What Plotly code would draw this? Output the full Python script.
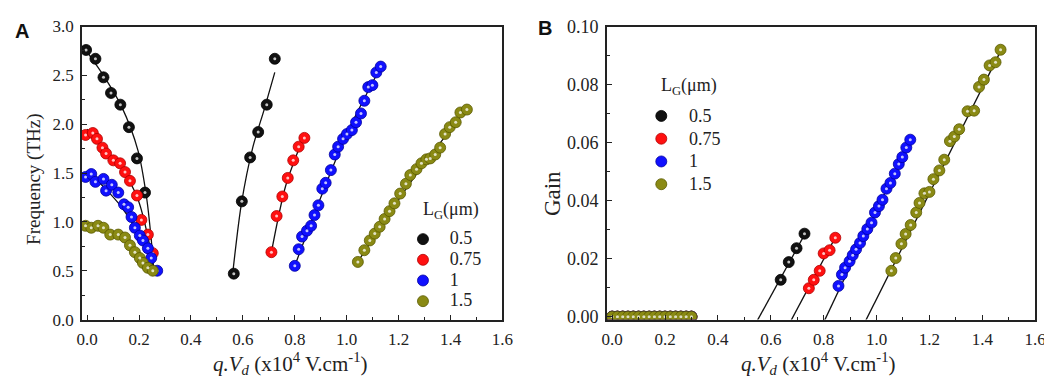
import plotly.graph_objects as go

# ---------------- Panel A : Frequency (THz) ----------------
# low-field (decreasing) branch
A05_lo_x = [-0.004, 0.032, 0.063, 0.092, 0.128, 0.161, 0.192, 0.223]
A05_lo_y = [2.76, 2.67, 2.48, 2.32, 2.20, 1.97, 1.65, 1.30]
A075_lo_x = [-0.006, 0.022, 0.038, 0.059, 0.073, 0.101, 0.127, 0.146, 0.165, 0.192, 0.209, 0.234, 0.253]
A075_lo_y = [1.89, 1.91, 1.85, 1.76, 1.70, 1.63, 1.60, 1.51, 1.42, 1.27, 1.02, 0.87, 0.68]
A1_lo_x = [-0.006, 0.016, 0.032, 0.063, 0.073, 0.095, 0.120, 0.142, 0.158, 0.171, 0.184, 0.203, 0.215, 0.234, 0.247, 0.270]
A1_lo_y = [1.46, 1.49, 1.41, 1.44, 1.32, 1.38, 1.30, 1.18, 1.15, 1.05, 0.94, 0.86, 0.81, 0.73, 0.63, 0.50]
A15_lo_x = [-0.006, 0.016, 0.042, 0.063, 0.089, 0.120, 0.146, 0.165, 0.184, 0.203, 0.215, 0.234, 0.253]
A15_lo_y = [0.96, 0.94, 0.96, 0.94, 0.87, 0.87, 0.84, 0.76, 0.69, 0.63, 0.58, 0.53, 0.50]
# high-field (increasing) branch
A05_hi_x = [0.565, 0.596, 0.628, 0.659, 0.692, 0.723]
A05_hi_y = [0.47, 1.21, 1.66, 1.92, 2.20, 2.67]
A075_hi_x = [0.710, 0.730, 0.752, 0.773, 0.794, 0.815, 0.837]
A075_hi_y = [0.69, 1.06, 1.26, 1.45, 1.63, 1.77, 1.86]
A1_hi_x = [0.800, 0.815, 0.828, 0.847, 0.863, 0.876, 0.891, 0.906, 0.919, 0.939, 0.954, 0.967,
           0.986, 1.001, 1.020, 1.036, 1.055, 1.068, 1.083, 1.099, 1.114, 1.131]
A1_hi_y = [0.55, 0.72, 0.85, 0.91, 0.96, 1.07, 1.17, 1.34, 1.40, 1.53, 1.69, 1.77,
           1.85, 1.90, 1.94, 2.02, 2.11, 2.24, 2.38, 2.40, 2.53, 2.59]
A15_hi_x = [1.043, 1.068, 1.089, 1.108, 1.127, 1.146, 1.165, 1.184, 1.206, 1.228, 1.245, 1.269,
            1.288, 1.307, 1.322, 1.341, 1.360, 1.379, 1.397, 1.420, 1.438, 1.463]
A15_hi_y = [0.59, 0.71, 0.81, 0.88, 0.95, 1.03, 1.11, 1.19, 1.29, 1.39, 1.48, 1.54,
            1.60, 1.64, 1.65, 1.69, 1.76, 1.90, 1.97, 2.02, 2.12, 2.15]

# fitted curves
F05_lo_x = [0.0, 0.07, 0.133, 0.196, 0.228, 0.247, 0.256]
F05_lo_y = [2.74, 2.47, 2.18, 1.73, 1.27, 0.82, 0.52]
F075_lo_x = [0.0, 0.07, 0.133, 0.196, 0.234, 0.256]
F075_lo_y = [1.95, 1.74, 1.55, 1.23, 0.85, 0.52]
F1_lo_x = [0.0, 0.07, 0.133, 0.196, 0.234, 0.256]
F1_lo_y = [1.52, 1.34, 1.15, 0.89, 0.69, 0.52]
F15_lo_x = [0.0, 0.07, 0.133, 0.196, 0.234, 0.256]
F15_lo_y = [0.99, 0.93, 0.84, 0.69, 0.58, 0.52]
F05_hi_x = [0.562, 0.594, 0.638, 0.682, 0.723]
F05_hi_y = [0.50, 1.18, 1.76, 2.15, 2.53]
F075_hi_x = [0.710, 0.765, 0.834]
F075_hi_y = [0.69, 1.37, 1.87]
F1_hi_x = [0.80, 0.90, 1.00, 1.13]
F1_hi_y = [0.55, 1.25, 1.90, 2.58]
F15_hi_x = [1.045, 1.25, 1.463]
F15_hi_y = [0.60, 1.42, 2.16]

# ---------------- Panel B : Gain ----------------
B_zero_x = [0.00, 0.02, 0.04, 0.06, 0.08, 0.10, 0.12, 0.14, 0.16, 0.18, 0.20, 0.22, 0.24, 0.26, 0.28, 0.30]
B_zero_y = [0.0, 0.0, 0.0, 0.0, 0.0, 0.0, 0.0, 0.0, 0.0, 0.0, 0.0, 0.0, 0.0, 0.0, 0.0, 0.0]
B05_x = [0.6375, 0.668, 0.6975, 0.7275]
B05_y = [0.0127, 0.0188, 0.0236, 0.0286]
B075_x = [0.744, 0.7625, 0.785, 0.800, 0.8225, 0.844]
B075_y = [0.0098, 0.0127, 0.0158, 0.0218, 0.0229, 0.0272]
B1_x = [0.856, 0.869, 0.881, 0.898, 0.910, 0.9225, 0.9375, 0.950, 0.965, 0.981, 0.994,
        1.009, 1.0225, 1.0375, 1.0525, 1.069, 1.084, 1.0975, 1.1125, 1.1275]
B1_y = [0.0106, 0.0145, 0.0169, 0.0191, 0.0212, 0.0232, 0.0254, 0.0278, 0.0302, 0.0324, 0.0359,
        0.0381, 0.0403, 0.0441, 0.0461, 0.0493, 0.0526, 0.0550, 0.0583, 0.0610]
B15_x = [1.056, 1.0725, 1.094, 1.110, 1.129, 1.150, 1.1625, 1.181, 1.200, 1.215, 1.2375,
         1.256, 1.2775, 1.294, 1.3125, 1.344, 1.369, 1.3875, 1.406, 1.4275, 1.450, 1.469]
B15_y = [0.0158, 0.0202, 0.0251, 0.0285, 0.0316, 0.0359, 0.0392, 0.0425, 0.0430, 0.0474, 0.0504,
         0.0541, 0.0605, 0.0621, 0.0646, 0.0708, 0.0710, 0.0792, 0.0817, 0.0866, 0.0877, 0.0920]
# fitted straight lines
G05_x = [0.55, 0.735];  G05_y = [-0.0012, 0.0295]
G075_x = [0.6775, 0.845]; G075_y = [-0.0012, 0.0275]
G1_x = [0.804, 1.135];  G1_y = [-0.0012, 0.0625]
G15_x = [0.96, 1.48];   G15_y = [-0.0012, 0.0935]

labels = ["0.5", "0.75", "1", "1.5"]
colors = ["#111111", "#ff1010", "#1010ff", "#8a8a14"]
edges = ["#000000", "#b00000", "#0000a0", "#5a5a00"]

A_pts = [(A05_lo_x, A05_lo_y, A05_hi_x, A05_hi_y),
         (A075_lo_x, A075_lo_y, A075_hi_x, A075_hi_y),
         (A1_lo_x, A1_lo_y, A1_hi_x, A1_hi_y),
         (A15_lo_x, A15_lo_y, A15_hi_x, A15_hi_y)]
A_fit = [(F05_lo_x, F05_lo_y, F05_hi_x, F05_hi_y),
         (F075_lo_x, F075_lo_y, F075_hi_x, F075_hi_y),
         (F1_lo_x, F1_lo_y, F1_hi_x, F1_hi_y),
         (F15_lo_x, F15_lo_y, F15_hi_x, F15_hi_y)]
B_pts = [(B05_x, B05_y), (B075_x, B075_y), (B1_x, B1_y), (B15_x, B15_y)]
B_fit = [(G05_x, G05_y), (G075_x, G075_y), (G1_x, G1_y), (G15_x, G15_y)]

fig = go.Figure()
MS = 11
HL = dict(size=3, color="rgba(255,255,255,0.75)")

def legname(lab):
    return "\u00a0\u00a0<span style='font-size:18px'>" + lab + "</span>"

# fit lines first (under markers)
for (lx, ly, hx, hy) in A_fit:
    fig.add_trace(go.Scatter(x=lx + [None] + hx, y=ly + [None] + hy, mode="lines",
                             line=dict(color="#111111", width=1.3, shape="spline", smoothing=0.8),
                             showlegend=False, hoverinfo="skip", xaxis="x", yaxis="y"))
for (fx, fy) in B_fit:
    fig.add_trace(go.Scatter(x=fx, y=fy, mode="lines", line=dict(color="#111111", width=1.3),
                             showlegend=False, hoverinfo="skip", xaxis="x2", yaxis="y2"))

for i, (lx, ly, hx, hy) in enumerate(A_pts):
    xs = lx + [None] + hx
    ys = ly + [None] + hy
    fig.add_trace(go.Scatter(x=xs, y=ys, mode="markers", name=legname(labels[i]),
                             marker=dict(size=MS, color=colors[i], line=dict(color=edges[i], width=0.8)),
                             legend="legend", xaxis="x", yaxis="y"))
    fig.add_trace(go.Scatter(x=xs, y=ys, mode="markers", showlegend=False, hoverinfo="skip",
                             marker=HL, xaxis="x", yaxis="y"))

for i, (bx, by) in enumerate(B_pts):
    xs = B_zero_x + [None] + bx
    ys = B_zero_y + [None] + by
    fig.add_trace(go.Scatter(x=xs, y=ys, mode="markers", name=legname(labels[i]),
                             marker=dict(size=MS, color=colors[i], line=dict(color=edges[i], width=0.8)),
                             legend="legend2", xaxis="x2", yaxis="y2"))
    fig.add_trace(go.Scatter(x=xs, y=ys, mode="markers", showlegend=False, hoverinfo="skip",
                             marker=HL, xaxis="x2", yaxis="y2"))

W, H = 1052, 387
def px(v):
    return v / W
def py(v):
    return 1 - v / H

serif = "Liberation Serif, Times New Roman, serif"
axcommon = dict(showline=True, mirror=True, linecolor="#222222", linewidth=1.5,
                showgrid=False, zeroline=False, tickcolor="#222222", ticklabelstandoff=3,
                ticklabeloverflow="allow")
ydom = [py(318), py(9)]
f17 = dict(family=serif, size=17, color="#222222")
f18 = dict(family=serif, size=18, color="#222222")

fig.update_layout(
    width=W, height=H, margin=dict(l=0, r=0, t=0, b=0),
    paper_bgcolor="white", plot_bgcolor="white",
    font=dict(family=serif, size=15, color="#222222"),
    xaxis=dict(domain=[px(70), px(497)], range=[-0.02, 1.6], dtick=0.2, tick0=0, tickformat=".1f",
               ticks="inside", ticklen=5, minor=dict(ticks="inside", ticklen=3, dtick=0.1, tick0=0),
               anchor="y", tickfont=f17, **axcommon),
    yaxis=dict(domain=ydom, range=[0, 3.0], dtick=0.5, tick0=0, tickformat=".1f",
               ticks="inside", ticklen=5, minor=dict(ticks="inside", ticklen=3, dtick=0.25, tick0=0),
               anchor="x", tickfont=f17, **axcommon),
    xaxis2=dict(domain=[px(603), px(1038)], range=[-0.02, 1.6], dtick=0.2, tick0=0, tickformat=".1f",
                ticks="inside", ticklen=5, minor=dict(ticks="inside", ticklen=3, dtick=0.1, tick0=0),
                anchor="y2", tickfont=f17, **axcommon),
    yaxis2=dict(domain=ydom, range=[-0.001, 0.1], dtick=0.02, tick0=0, tickformat=".2f",
                ticks="inside", ticklen=5, minor=dict(ticks="inside", ticklen=3, dtick=0.01, tick0=0),
                anchor="x2", tickfont=f18, **axcommon),
    legend=dict(x=px(396), y=py(217), xanchor="left", yanchor="top", bgcolor="rgba(0,0,0,0)",
                font=dict(family=serif, size=13.6, color="#222"), tracegroupgap=0),
    legend2=dict(x=px(638), y=py(86), xanchor="left", yanchor="top", bgcolor="rgba(0,0,0,0)",
                 font=dict(family=serif, size=15.2, color="#222"), tracegroupgap=0),
)

xtitle = "<i>q.V<sub>d</sub></i> (x10<sup>4</sup> V.cm<sup>-1</sup>)"
legtitle = "L<sub>G</sub>(μm)"
annos = [
    dict(text="<b>A</b>", x=px(9), y=py(14), font=dict(family="Liberation Sans", size=20, color="#111")),
    dict(text="<b>B</b>", x=px(540), y=py(11), font=dict(family="Liberation Sans", size=20, color="#111")),
    dict(text=xtitle, x=px(282), y=py(364), font=dict(family=serif, size=21, color="#222")),
    dict(text=xtitle, x=px(818), y=py(364), font=dict(family=serif, size=21, color="#222")),
    dict(text="Frequency (THz)", x=px(22), y=py(170), textangle=-90,
         font=dict(family=serif, size=19, color="#222")),
    dict(text="Gain", x=px(548), y=py(185), textangle=-90,
         font=dict(family=serif, size=23, color="#222")),
    dict(text=legtitle, x=px(445), y=py(203), font=dict(family=serif, size=18, color="#222")),
    dict(text=legtitle, x=px(686), y=py(72), font=dict(family=serif, size=18, color="#222")),
]
for a in annos:
    fig.add_annotation(xref="paper", yref="paper", showarrow=False, xanchor="center", yanchor="middle", **a)

fig.write_html("out.html")
